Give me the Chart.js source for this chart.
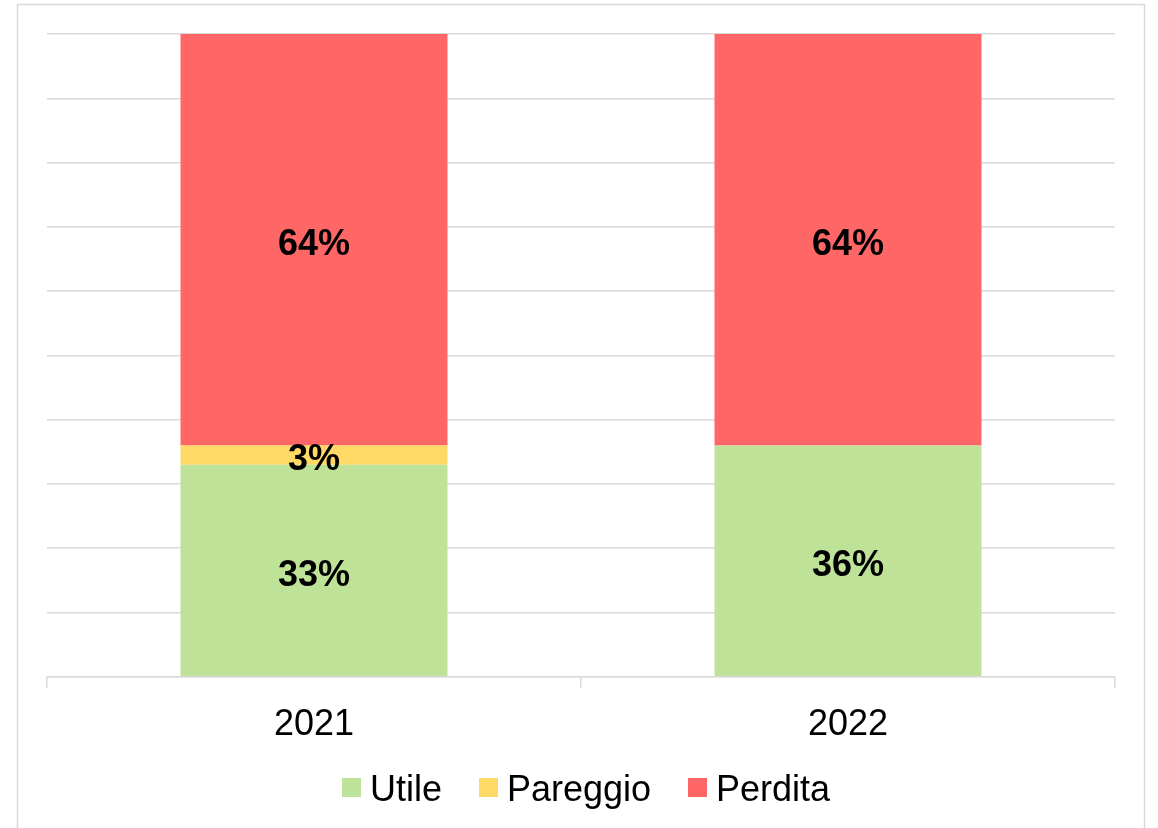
<!DOCTYPE html>
<html>
<head>
<meta charset="utf-8">
<script src="https://cdn.jsdelivr.net/npm/chart.js@4/dist/chart.umd.min.js"></script>
<style>
html,body{margin:0;padding:0;background:#fff;}
#c{display:block;}
</style>
</head>
<body>
<canvas id="c" width="1158" height="828"></canvas>
<script>
const categories = ['2021', '2022'];
const utile = [33, 36];
const pareggio = [3, 0];
const perdita = [64, 64];
const seriesNames = ['Utile', 'Pareggio', 'Perdita'];
const seriesColors = ['#bfe299', '#ffd966', '#ff6666'];

const FONT = '"Liberation Sans", Arial, sans-serif';

const frame = {
  id: 'frame',
  beforeDraw(chart) {
    const ctx = chart.ctx;
    ctx.save();
    ctx.fillStyle = '#fff';
    ctx.fillRect(0, 0, chart.width, chart.height);
    ctx.strokeStyle = '#d9d9d9';
    ctx.lineWidth = 1.5;
    ctx.strokeRect(17.5, 4.5, 1127, 900);
    ctx.restore();
  }
};

const labels = {
  id: 'labels',
  afterDatasetsDraw(chart) {
    const ctx = chart.ctx;
    ctx.save();
    ctx.font = 'bold 36px ' + FONT;
    ctx.fillStyle = '#000';
    ctx.textAlign = 'center';
    ctx.textBaseline = 'middle';
    chart.data.datasets.forEach((ds, i) => {
      const meta = chart.getDatasetMeta(i);
      meta.data.forEach((bar, j) => {
        const v = ds.data[j];
        if (!v) return;
        const y = (bar.y + bar.base) / 2 + 5.5;
        ctx.fillText(v + '%', bar.x, y);
      });
    });
    ctx.restore();
  }
};

// legend drawn with the same series names / colours, spaced like the reference
const customLegend = {
  id: 'customLegend',
  afterDraw(chart) {
    const ctx = chart.ctx;
    ctx.save();
    ctx.font = '36px ' + FONT;
    const box = 19, gapBoxText = 9, gapItems = 37;
    const widths = seriesNames.map(n => ctx.measureText(n).width);
    let total = 0;
    widths.forEach((w, i) => { total += box + gapBoxText + w + (i < widths.length - 1 ? gapItems : 0); });
    let x = 586 - total / 2;
    const cy = 787.5;
    ctx.textBaseline = 'alphabetic';
    ctx.textAlign = 'left';
    seriesNames.forEach((n, i) => {
      ctx.fillStyle = seriesColors[i];
      ctx.fillRect(Math.round(x), cy - box / 2, box, box);
      ctx.fillStyle = '#000';
      ctx.fillText(n, x + box + gapBoxText, cy + 13.5);
      x += box + gapBoxText + widths[i] + gapItems;
    });
    ctx.restore();
  }
};

new Chart(document.getElementById('c'), {
  type: 'bar',
  data: {
    labels: categories,
    datasets: [
      { label: seriesNames[0], data: utile, backgroundColor: seriesColors[0] },
      { label: seriesNames[1], data: pareggio, backgroundColor: seriesColors[1] },
      { label: seriesNames[2], data: perdita, backgroundColor: seriesColors[2] }
    ]
  },
  options: {
    responsive: false,
    animation: false,
    devicePixelRatio: 1,
    categoryPercentage: 1,
    barPercentage: 0.5,
    layout: { padding: { left: 47, right: 43, top: 34, bottom: 65 } },
    plugins: {
      legend: { display: false },
      tooltip: { enabled: false }
    },
    scales: {
      x: {
        stacked: true,
        grid: { drawOnChartArea: false, drawTicks: true, tickLength: 11, color: '#d9d9d9', lineWidth: 1.5, offset: true },
        border: { display: true, color: '#d9d9d9', width: 1.5 },
        ticks: { color: '#000', font: { size: 36, family: FONT }, padding: 16 }
      },
      y: {
        stacked: true,
        min: 0, max: 100,
        ticks: { display: false, stepSize: 10 },
        grid: { color: '#d9d9d9', lineWidth: 1.5, drawTicks: false },
        border: { display: false }
      }
    }
  },
  plugins: [frame, labels, customLegend]
});
</script>
</body>
</html>
